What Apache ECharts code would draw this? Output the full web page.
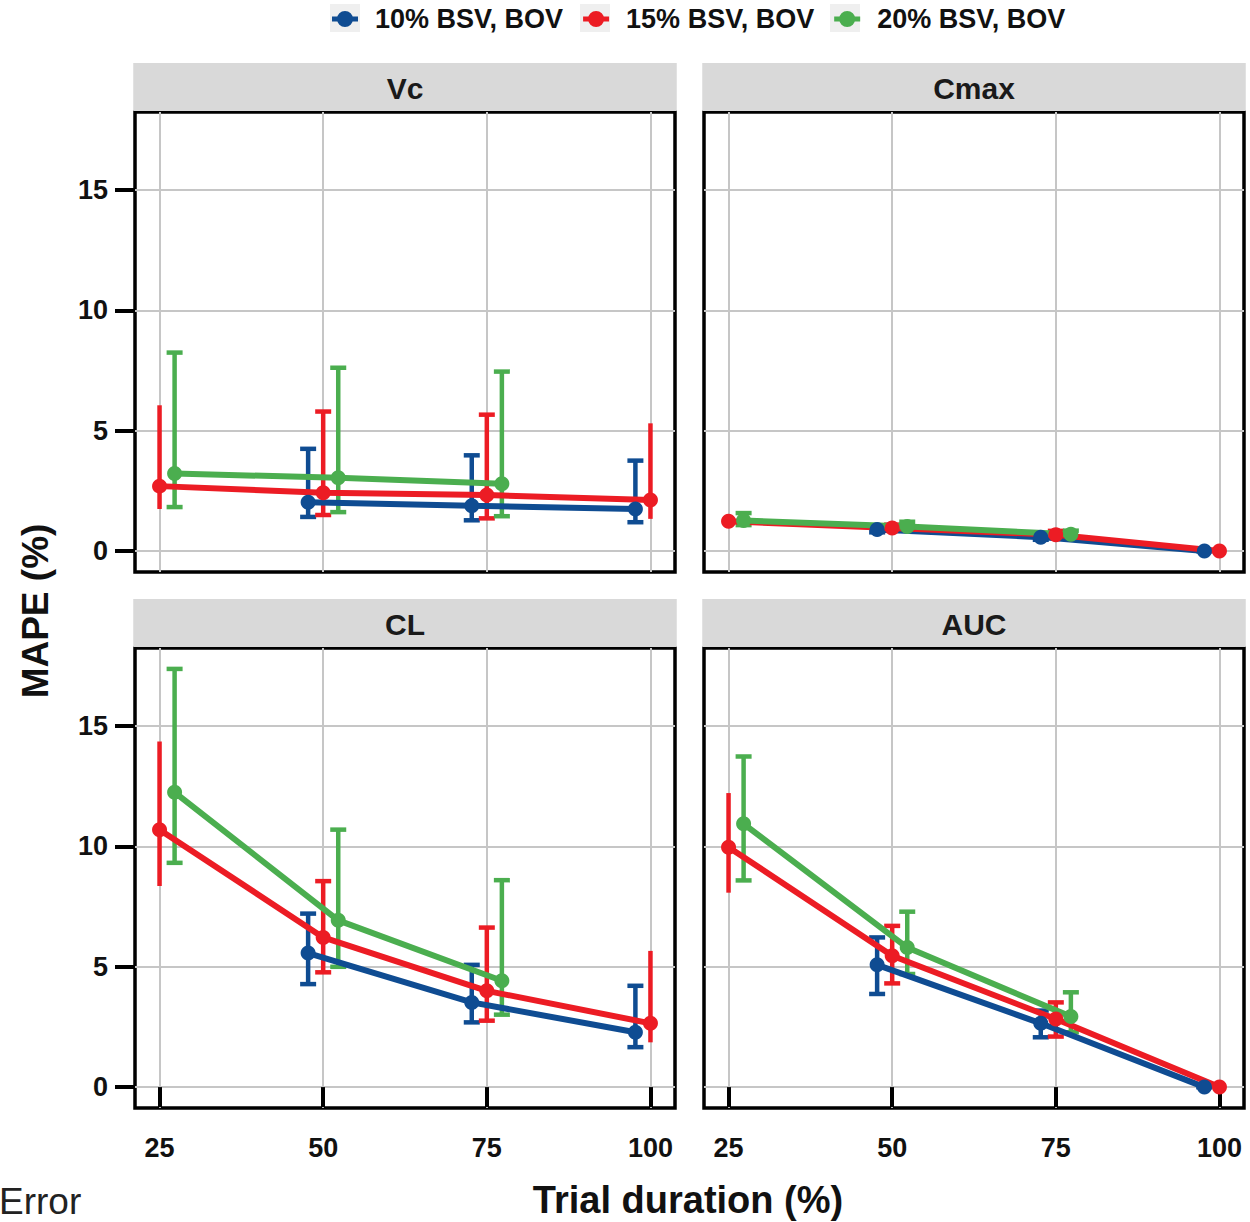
<!DOCTYPE html>
<html>
<head>
<meta charset="utf-8">
<script src="https://cdn.jsdelivr.net/npm/echarts@6/dist/echarts.min.js"></script>
<style>
  html, body { margin: 0; padding: 0; background: #fff; }
  #chart { width: 1250px; height: 1222px; }
</style>
</head>
<body>
<div id="chart"></div>
<script>
// ---------------- DATA ----------------
const panels = ['Vc', 'Cmax', 'CL', 'AUC'];
const groups = ['10% BSV, BOV', '15% BSV, BOV', '20% BSV, BOV'];
const durations = [25, 50, 75, 100];
const xTicks = [25, 50, 75, 100];
const yTicks = [0, 5, 10, 15];

// rows: 10%, 15%, 20% ; columns: durations 25, 50, 75, 100
const vcMean  = [[null, 2.03, 1.88, 1.75], [2.70, 2.42, 2.33, 2.12], [3.22, 3.05, 2.80, null]];
const vcLower = [[null, 1.42, 1.28, 1.20], [1.75, 1.50, 1.36, 1.34], [1.83, 1.62, 1.45, null]];
const vcUpper = [[null, 4.25, 3.98, 3.76], [6.06, 5.80, 5.67, 5.31], [8.25, 7.62, 7.46, null]];

const cmaxMean  = [[null, 0.90, 0.58, 0.00], [1.24, 0.96, 0.68, 0.00], [1.27, 1.02, 0.70, null]];
const cmaxLower = [[null, 0.78, 0.47, 0.00], [1.15, 0.84, 0.60, 0.00], [1.08, 0.88, 0.60, null]];
const cmaxUpper = [[null, 1.02, 0.72, 0.00], [1.32, 1.10, 0.84, 0.00], [1.58, 1.22, 0.85, null]];

const clMean  = [[null, 5.57, 3.52, 2.28], [10.70, 6.22, 4.00, 2.65], [12.25, 6.93, 4.42, null]];
const clLower = [[null, 4.28, 2.69, 1.66], [8.36, 4.77, 2.76, 1.86], [9.32, 5.00, 3.01, null]];
const clUpper = [[null, 7.21, 5.08, 4.21], [14.36, 8.56, 6.63, 5.66], [17.38, 10.70, 8.60, null]];

const aucMean  = [[null, 5.08, 2.65, 0.00], [9.97, 5.46, 2.83, 0.00], [10.94, 5.80, 2.93, null]];
const aucLower = [[null, 3.87, 2.07, 0.00], [8.08, 4.31, 2.10, 0.00], [8.59, 4.70, 2.28, null]];
const aucUpper = [[null, 6.22, 3.18, 0.00], [12.22, 6.70, 3.52, 0.00], [13.74, 7.29, 3.94, null]];

// ---------------- STYLE / LAYOUT ----------------
const colors = ['#0f4c92', '#ec1c24', '#4bae4f'];
const dodge = [-2.3, 0, 2.3];            // horizontal dodge per group (x units)
const capShown = [[1, 1, 1, 1], [0, 1, 1, 0], [1, 1, 1, 1]];
const FONT = "'Liberation Sans', Arial, sans-serif";
const TXT = '#111111';
const colLeft = [135, 704];
const rowTop = [112, 648];
const PW = 540, PH = 460;

const meanSets  = [vcMean, cmaxMean, clMean, aucMean];
const lowerSets = [vcLower, cmaxLower, clLower, aucLower];
const upperSets = [vcUpper, cmaxUpper, clUpper, aucUpper];

// ggplot-like 5% expansion
let yHi = 0;
upperSets.forEach(s => s.forEach(r => r.forEach(v => { if (v != null && v > yHi) yHi = v; })));
const yMin = -0.05 * yHi, yMax = yHi * 1.05;
const xMin = 25 - 0.05 * 75, xMax = 100 + 0.05 * 75;

function renderErr(params, api) {
  const x = api.value(0), lo = api.value(1), hi = api.value(2), cap = api.value(3);
  const a = api.coord([x, lo]), b = api.coord([x, hi]);
  const col = api.visual('color');
  const st = { stroke: col, lineWidth: 4.5, lineCap: 'butt' };
  const ch = [{ type: 'line', shape: { x1: a[0], y1: a[1], x2: b[0], y2: b[1] }, style: st }];
  if (cap) {
    const h = 8;
    ch.push({ type: 'line', shape: { x1: a[0] - h, y1: a[1], x2: a[0] + h, y2: a[1] }, style: st });
    ch.push({ type: 'line', shape: { x1: b[0] - h, y1: b[1], x2: b[0] + h, y2: b[1] }, style: st });
  }
  return { type: 'group', children: ch };
}

const grids = [], xAxes = [], yAxes = [], series = [], graphics = [];
panels.forEach((name, p) => {
  const col = p % 2, row = Math.floor(p / 2);
  const left = colLeft[col], top = rowTop[row];
  grids.push({ left: left, top: top, width: PW, height: PH, show: true,
    borderColor: '#000', borderWidth: 3.5, backgroundColor: 'transparent' });
  xAxes.push({
    type: 'value', gridIndex: p, min: xMin, max: xMax,
    axisLine: { show: false },
    axisTick: { show: row === 1, customValues: xTicks, length: 20, lineStyle: { color: '#000', width: 4 } },
    axisLabel: { show: row === 1, customValues: xTicks, margin: 26, fontSize: 27, fontWeight: 'bold', color: TXT, fontFamily: FONT },
    splitLine: { show: true, lineStyle: { color: '#c6c6c6', width: 2 } }
  });
  yAxes.push({
    type: 'value', gridIndex: p, min: yMin, max: yMax,
    axisLine: { show: false },
    axisTick: { show: col === 0, customValues: yTicks, length: 20, lineStyle: { color: '#000', width: 4 } },
    axisLabel: { show: col === 0, customValues: yTicks, margin: 27, fontSize: 27, fontWeight: 'bold', color: TXT, fontFamily: FONT },
    splitLine: { show: true, lineStyle: { color: '#c6c6c6', width: 2 } }
  });
  // strip
  graphics.push({ type: 'rect', z: 1, shape: { x: left - 1.75, y: top - 49, width: PW + 3.5, height: 48 }, style: { fill: '#d9d9d9' } });
  graphics.push({ type: 'text', z: 2, x: left + PW / 2, y: top - 24,
    style: { text: name, fontSize: 30, fontWeight: 'bold', fontFamily: FONT, fill: '#1a1a1a', align: 'center', verticalAlign: 'middle' } });

  const means = meanSets[p], lows = lowerSets[p], ups = upperSets[p];
  groups.forEach((g, gi) => {
    const errData = [];
    durations.forEach((d, k) => {
      if (lows[gi][k] != null) errData.push([d + dodge[gi], lows[gi][k], ups[gi][k], capShown[gi][k]]);
    });
    series.push({
      type: 'custom', name: g, xAxisIndex: p, yAxisIndex: p, z: 2,
      itemStyle: { color: colors[gi] }, renderItem: renderErr,
      encode: { x: 0, y: [1, 2] }, data: errData, silent: true
    });
  });
  groups.forEach((g, gi) => {
    const pts = [];
    durations.forEach((d, k) => { if (means[gi][k] != null) pts.push([d + dodge[gi], means[gi][k]]); });
    series.push({
      type: 'line', name: g, xAxisIndex: p, yAxisIndex: p, z: 3,
      data: pts, symbol: 'circle', symbolSize: 15, showSymbol: true,
      itemStyle: { color: colors[gi] }, lineStyle: { color: colors[gi], width: 6 },
      emphasis: { disabled: true }, silent: true
    });
  });
});

// legend key backgrounds
groups.forEach((g, gi) => {
  graphics.push({ type: 'rect', z: 0, shape: { x: 330 + gi * 250, y: 4, width: 30, height: 28 }, style: { fill: '#efefef' } });
});
// axis titles
graphics.push({ type: 'text', x: 35, y: 611, rotation: Math.PI / 2,
  style: { text: 'MAPE (%)', fontSize: 37, fontWeight: 'bold', fontFamily: FONT, fill: TXT, align: 'center', verticalAlign: 'middle' } });
graphics.push({ type: 'text', x: 688, y: 1200,
  style: { text: 'Trial duration (%)', fontSize: 38, fontWeight: 'bold', fontFamily: FONT, fill: TXT, align: 'center', verticalAlign: 'middle' } });
graphics.push({ type: 'text', x: -1, y: 1201,
  style: { text: 'Error', fontSize: 37, fontWeight: 'normal', fontFamily: FONT, fill: '#222', align: 'left', verticalAlign: 'middle' } });

const chart = echarts.init(document.getElementById('chart'), null, { renderer: 'svg' });
chart.setOption({
  animation: false,
  backgroundColor: '#ffffff',
  legend: {
    data: groups, left: 327, top: 0, z: 5,
    icon: 'path://M0,5.5L26,5.5L26,10.5L0,10.5Z M21,8A8,8,0,1,1,5,8A8,8,0,1,1,21,8Z',
    itemWidth: 26, itemHeight: 16, itemGap: 20, selectedMode: false,
    textStyle: { fontSize: 27, fontWeight: 'bold', fontFamily: FONT, color: TXT, width: 187, lineHeight: 28, padding: [0, 0, 0, 12] }
  },
  grid: grids, xAxis: xAxes, yAxis: yAxes, series: series,
  graphic: { elements: graphics }
});
</script>
</body>
</html>
